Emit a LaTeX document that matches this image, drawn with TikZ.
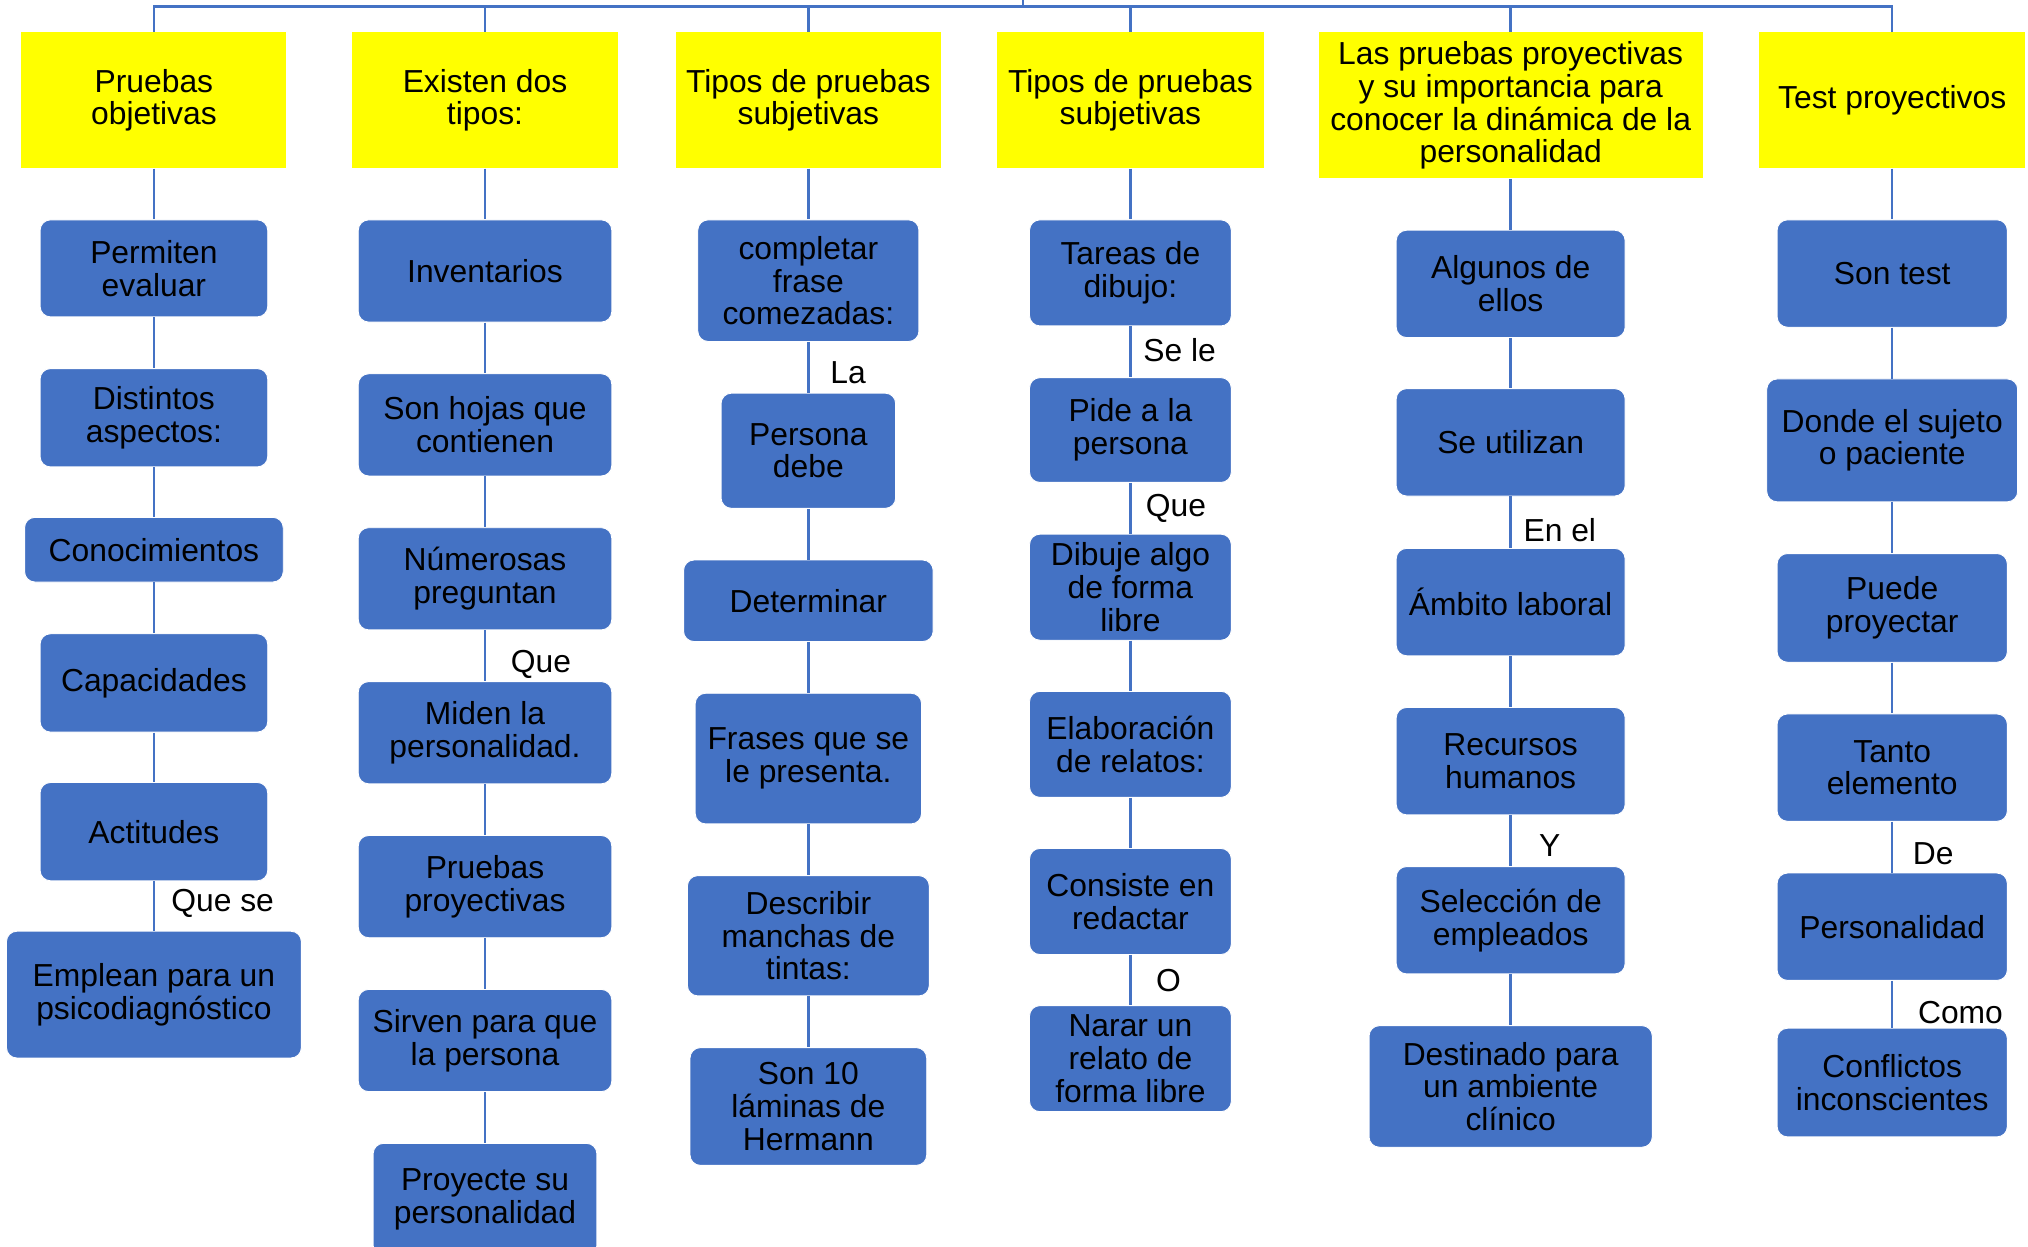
\documentclass[tikz,border=0pt]{standalone}
\usepackage{fontspec}
\setmainfont{Liberation Sans}
\definecolor{boxblue}{HTML}{4472C4}
\definecolor{lineblue}{HTML}{4472C4}
\definecolor{headyellow}{HTML}{FFFF00}

\begin{document}
\begin{tikzpicture}[
    every node/.style={font=\fontsize{14}{14.4}\selectfont},
    head/.style={fill=headyellow, align=center, inner sep=0pt},
    blk/.style={fill=boxblue, draw=white, line width=0.4pt, rounded corners=0.16cm, align=center, inner sep=0pt},
    conn/.style={draw=lineblue, line width=1.1pt},
    lbl/.style={anchor=west, inner sep=0pt, xshift=#1},
    lbl/.default=0.25cm
  ]
  \useasboundingbox (0,0) rectangle (31.36,-19.28);
  \clip (0,0) rectangle (31.36,-19.28);

  % headers
  \node[head, minimum width=4.10cm, minimum height=2.10cm] (h1) at (2.38,-1.55) {Pruebas\\objetivas};
  \node[head, minimum width=4.10cm, minimum height=2.10cm] (h2) at (7.50,-1.55) {Existen dos\\tipos:};
  \node[head, minimum width=4.10cm, minimum height=2.10cm] (h3) at (12.50,-1.55) {Tipos de pruebas\\subjetivas};
  \node[head, minimum width=4.12cm, minimum height=2.10cm] (h4) at (17.48,-1.55) {Tipos de pruebas\\subjetivas};
  \node[head, minimum width=5.94cm, minimum height=2.26cm] (h5) at (23.36,-1.63) {Las pruebas proyectivas\\y su importancia para\\conocer la dinámica de la\\personalidad};
  \node[head, minimum width=4.12cm, minimum height=2.10cm] (h6) at (29.26,-1.55) {Test proyectivos};

  \coordinate (bus) at (15.82,-0.10);
  \coordinate (root) at (15.82,0.30);
  \draw[conn] (bus) -- (root);
  \foreach \h in {h1,h2,h3,h4,h5,h6}
    \draw[conn] (\h.north) |- (bus);

  % pruebas objetivas
  \node[blk, minimum width=3.52cm, minimum height=1.50cm] (a1) at (2.38,-4.15) {Permiten\\evaluar};
  \node[blk, minimum width=3.52cm, minimum height=1.52cm] (a2) at (2.38,-6.46) {Distintos\\aspectos:};
  \node[blk, minimum width=4.00cm, minimum height=1.00cm] (a3) at (2.38,-8.50) {Conocimientos};
  \node[blk, minimum width=3.52cm, minimum height=1.52cm] (a4) at (2.38,-10.56) {Capacidades};
  \node[blk, minimum width=3.52cm, minimum height=1.52cm] (a5) at (2.38,-12.86) {Actitudes};
  \node[blk, minimum width=4.56cm, minimum height=1.96cm] (a6) at (2.38,-15.38) {Emplean para un\\psicodiagnóstico};

  % existen dos tipos
  \node[blk, minimum width=3.92cm, minimum height=1.58cm] (b1) at (7.50,-4.19) {Inventarios};
  \node[blk, minimum width=3.92cm, minimum height=1.58cm] (b2) at (7.50,-6.57) {Son hojas que\\contienen};
  \node[blk, minimum width=3.92cm, minimum height=1.58cm] (b3) at (7.50,-8.95) {Númerosas\\preguntan};
  \node[blk, minimum width=3.92cm, minimum height=1.58cm] (b4) at (7.50,-11.33) {Miden la\\personalidad.};
  \node[blk, minimum width=3.92cm, minimum height=1.58cm] (b5) at (7.50,-13.71) {Pruebas\\proyectivas};
  \node[blk, minimum width=3.92cm, minimum height=1.58cm] (b6) at (7.50,-16.09) {Sirven para que\\la persona};
  \node[blk, minimum width=3.46cm, minimum height=1.74cm] (b7) at (7.50,-18.55) {Proyecte su\\personalidad};

  % subjetivas 1
  \node[blk, minimum width=3.42cm, minimum height=1.88cm] (c1) at (12.50,-4.34) {completar\\frase\\comezadas:};
  \node[blk, minimum width=2.70cm, minimum height=1.78cm] (c2) at (12.50,-6.97) {Persona\\debe};
  \node[blk, minimum width=3.86cm, minimum height=1.26cm] (c3) at (12.50,-9.29) {Determinar};
  \node[blk, minimum width=3.50cm, minimum height=2.02cm] (c4) at (12.50,-11.73) {Frases que se\\le presenta.};
  \node[blk, minimum width=3.74cm, minimum height=1.86cm] (c5) at (12.50,-14.47) {Describir\\manchas de\\tintas:};
  \node[blk, minimum width=3.66cm, minimum height=1.82cm] (c6) at (12.50,-17.11) {Son 10\\láminas de\\Hermann};

  % subjetivas 2
  \node[blk, minimum width=3.12cm, minimum height=1.64cm] (d1) at (17.48,-4.22) {Tareas de\\dibujo:};
  \node[blk, minimum width=3.12cm, minimum height=1.62cm] (d2) at (17.48,-6.65) {Pide a la\\persona};
  \node[blk, minimum width=3.12cm, minimum height=1.64cm] (d3) at (17.48,-9.08) {Dibuje algo\\de forma\\libre};
  \node[blk, minimum width=3.12cm, minimum height=1.64cm] (d4) at (17.48,-11.51) {Elaboración\\de relatos:};
  \node[blk, minimum width=3.12cm, minimum height=1.64cm] (d5) at (17.48,-13.94) {Consiste en\\redactar};
  \node[blk, minimum width=3.12cm, minimum height=1.64cm] (d6) at (17.48,-16.37) {Narar un\\relato de\\forma libre};

  % proyectivas
  \node[blk, minimum width=3.54cm, minimum height=1.66cm] (e1) at (23.36,-4.39) {Algunos de\\ellos};
  \node[blk, minimum width=3.54cm, minimum height=1.66cm] (e2) at (23.36,-6.84) {Se utilizan};
  \node[blk, minimum width=3.54cm, minimum height=1.66cm] (e3) at (23.36,-9.31) {Ámbito laboral};
  \node[blk, minimum width=3.54cm, minimum height=1.66cm] (e4) at (23.36,-11.77) {Recursos\\humanos};
  \node[blk, minimum width=3.54cm, minimum height=1.66cm] (e5) at (23.36,-14.23) {Selección de\\empleados};
  \node[blk, minimum width=4.38cm, minimum height=1.88cm] (e6) at (23.36,-16.80) {Destinado para\\un ambiente\\clínico};

  % test proyectivos
  \node[blk, minimum width=3.56cm, minimum height=1.66cm] (f1) at (29.26,-4.23) {Son test};
  \node[blk, minimum width=3.88cm, minimum height=1.90cm] (f2) at (29.26,-6.81) {Donde el sujeto\\o paciente};
  \node[blk, minimum width=3.56cm, minimum height=1.68cm] (f3) at (29.26,-9.40) {Puede\\proyectar};
  \node[blk, minimum width=3.56cm, minimum height=1.66cm] (f4) at (29.26,-11.87) {Tanto\\elemento};
  \node[blk, minimum width=3.56cm, minimum height=1.66cm] (f5) at (29.26,-14.33) {Personalidad};
  \node[blk, minimum width=3.56cm, minimum height=1.68cm] (f6) at (29.26,-16.74) {Conflictos\\inconscientes};

  % connectors
  \draw[conn] (h1) -- (a1); \draw[conn] (a1) -- (a2); \draw[conn] (a2) -- (a3);
  \draw[conn] (a3) -- (a4); \draw[conn] (a4) -- (a5);
  \draw[conn] (a5) -- node[lbl, yshift=0.04cm] {Que se} (a6);

  \draw[conn] (h2) -- (b1); \draw[conn] (b1) -- (b2); \draw[conn] (b2) -- (b3);
  \draw[conn] (b3) -- node[lbl=0.38cm, yshift=-0.14cm] {Que} (b4);
  \draw[conn] (b4) -- (b5); \draw[conn] (b5) -- (b6); \draw[conn] (b6) -- (b7);

  \draw[conn] (h3) -- (c1);
  \draw[conn] (c1) -- node[lbl=0.32cm, yshift=-0.08cm] {La} (c2);
  \draw[conn] (c2) -- (c3); \draw[conn] (c3) -- (c4); \draw[conn] (c4) -- (c5); \draw[conn] (c5) -- (c6);

  \draw[conn] (h4) -- (d1);
  \draw[conn] (d1) -- node[lbl=0.18cm, yshift=0.03cm] {Se le} (d2);
  \draw[conn] (d2) -- node[lbl=0.22cm] {Que} (d3);
  \draw[conn] (d3) -- (d4); \draw[conn] (d4) -- (d5);
  \draw[conn] (d5) -- node[lbl=0.38cm] {O} (d6);

  \draw[conn] (h5) -- (e1); \draw[conn] (e1) -- (e2);
  \draw[conn] (e2) -- node[lbl=0.18cm, yshift=-0.12cm] {En el} (e3);
  \draw[conn] (e3) -- (e4);
  \draw[conn] (e4) -- node[lbl=0.42cm, yshift=-0.08cm] {Y} (e5);
  \draw[conn] (e5) -- (e6);

  \draw[conn] (h6) -- (f1); \draw[conn] (f1) -- (f2); \draw[conn] (f2) -- (f3); \draw[conn] (f3) -- (f4);
  \draw[conn] (f4) -- node[lbl=0.30cm, yshift=-0.10cm] {De} (f5);
  \draw[conn] (f5) -- node[lbl=0.38cm, yshift=-0.12cm] {Como} (f6);
\end{tikzpicture}
\end{document}
